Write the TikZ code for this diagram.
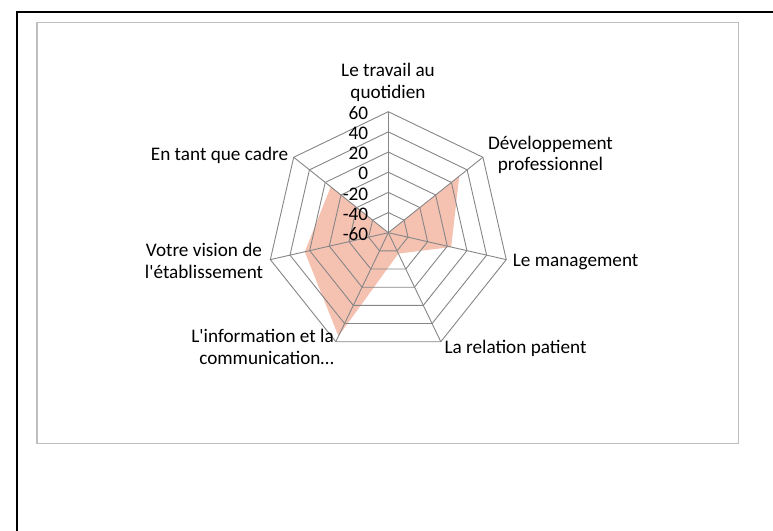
\documentclass[tikz,border=0pt]{standalone}
\usepackage{fontspec}
\setmainfont{Carlito}
\usetikzlibrary{calc}
\definecolor{gridgray}{RGB}{134,134,134}
\definecolor{boxgray}{RGB}{190,190,190}
\definecolor{fillsalmon}{RGB}{245,194,178}
\begin{document}
\begin{tikzpicture}[x=1bp,y=-1bp,
  lbl/.style={font=\fontsize{19.2bp}{21.6bp}\selectfont, inner sep=0pt, text=black},
  gridline/.style={draw=gridgray, line width=0.9bp, line join=miter}]
\useasboundingbox (0,0) rectangle (773,531);
% outer frame (only top and left visible)
\draw[line width=1.8bp] (16.8,531) -- (16.8,12) -- (773,12);
% chart area
\draw[boxgray, line width=1.3bp] (37,22.5) rectangle (738.7,443.3);
\coordinate (C) at (388.3,232.7);
\begin{scope}[shift={(C)}]
  % data area
  \fill[fillsalmon] (-90:0) -- (-38.571:90.75) -- (12.857:64.53) -- (64.286:23.19)
     -- (115.714:114.9) -- (167.143:85.7) -- (218.571:73.6) -- cycle;
  % rings
  \foreach \i in {1,...,6}{
    \draw[gridline] (-90:{\i*20.1667}) -- (-38.571:{\i*20.1667}) -- (12.857:{\i*20.1667})
      -- (64.286:{\i*20.1667}) -- (115.714:{\i*20.1667}) -- (167.143:{\i*20.1667})
      -- (218.571:{\i*20.1667}) -- cycle;
  }
  % spokes
  \foreach \a in {-90,-38.571,12.857,64.286,115.714,167.143,218.571}{
    \draw[gridline] (0,0) -- (\a:121);
  }
  % value labels
  \node[lbl, anchor=base east] (v60)  at (-20,{-121+7.8}) {60};
  \node[lbl, anchor=base east] (v40)  at (-20,{-100.83+7.8}) {40};
  \node[lbl, anchor=base east] (v20)  at (-20,{-80.67+7.8}) {20};
  \node[lbl, anchor=base east] (v0)   at (-20,{-60.5+7.8}) {0};
  \node[lbl, anchor=base east] (vm20) at (-20,{-40.33+7.8}) {-20};
  \node[lbl, anchor=base east] (vm40) at (-20,{-20.17+7.8}) {-40};
  \node[lbl, anchor=base east] (vm60) at (-20,7.8) {-60};
\end{scope}
% category labels (base anchor = baseline of last line)
\node[lbl, align=center, anchor=base] (travail) at (388,98.3) {Le travail au\\quotidien};
\node[lbl, align=center, anchor=base] (dev) at (550.5,171) {Développement\\professionnel};
\node[lbl, anchor=base west] (mgmt) at (512.7,266.7) {Le management};
\node[lbl, anchor=base west] (rel) at (444.3,353.3) {La relation patient};
\node[lbl, align=right, anchor=base east] (info) at (334,364.5) {L\textquotesingle information et la\\communication…};
\node[lbl, align=center, anchor=base] (vision) at (204,278.6) {Votre vision de\\l\textquotesingle établissement};
\node[lbl, anchor=base east] (cadre) at (288.3,160.7) {En tant que cadre};
\end{tikzpicture}
\end{document}
